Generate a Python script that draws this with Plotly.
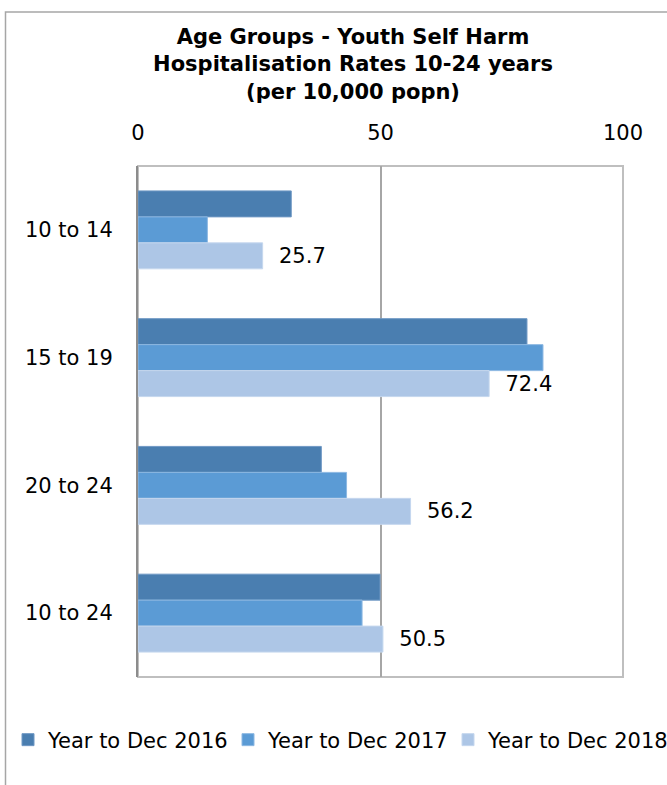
import plotly.graph_objects as go

categories = ["10 to 14", "15 to 19", "20 to 24", "10 to 24"]
series_names = ["Year to Dec 2016", "Year to Dec 2017", "Year to Dec 2018"]
values_2016 = [31.6, 80.2, 37.8, 49.9]
values_2017 = [14.3, 83.5, 43.0, 46.2]
values_2018 = [25.7, 72.4, 56.2, 50.5]
x_ticks = [0, 50, 100]

colors = ["#4A7EB0", "#5B9BD5", "#ADC6E6"]
edge_colors = ["#6F98C4", "#8DB8E2", "#C5D7EE"]
legend_ids = ["legend", "legend2", "legend3"]
legend_x_px = [8, 228, 448]

W, H = 667, 785
L, R, T, B = 138, 44, 166, 108
pw, ph = W - L - R, H - T - B
LEGEND_Y_PX = 740

fig = go.Figure()
all_vals = [values_2016, values_2017, values_2018]
for i, (name, vals) in enumerate(zip(series_names, all_vals)):
    show_text = i == 2
    fig.add_trace(go.Bar(
        y=categories, x=vals, orientation="h", name=name,
        marker=dict(color=colors[i], line=dict(color=edge_colors[i], width=1)),
        text=[f"\u00a0\u00a0{v}" for v in vals] if show_text else None,
        textposition="outside" if show_text else None,
        textfont=dict(family="DejaVu Sans", size=21, color="#000000"),
        cliponaxis=False,
        legend=legend_ids[i],
    ))

# outer chart border (partially off-canvas like the reference)
fig.add_shape(type="rect", xref="paper", yref="paper",
              x0=(5.5 - L) / pw, x1=(W + 20 - L) / pw,
              y0=-(B + 20) / ph, y1=1 + (T - 12) / ph,
              line=dict(color="#A6A6A6", width=1.5), layer="below")
# plot-area border
fig.add_shape(type="rect", xref="paper", yref="paper", x0=0, x1=1, y0=0, y1=1,
              line=dict(color="#BFBFBF", width=2), layer="below")

legend_font = dict(family="DejaVu Sans", size=21, color="#000000")
legend_layouts = {}
for lid, xpx in zip(legend_ids, legend_x_px):
    legend_layouts[lid] = dict(
        orientation="h", xref="container", yref="container",
        x=xpx / W, xanchor="left", y=1 - LEGEND_Y_PX / H, yanchor="middle",
        itemwidth=30, font=legend_font, bgcolor="rgba(0,0,0,0)",
    )

fig.update_layout(
    width=W, height=H,
    margin=dict(l=L, r=R, t=T, b=B, pad=0),
    paper_bgcolor="white", plot_bgcolor="white",
    barmode="group", bargap=0.39, bargroupgap=0,
    title=dict(
        text="<b>Age Groups - Youth Self Harm<br>Hospitalisation Rates 10-24 years<br>(per 10,000 popn)</b>",
        x=353 / W, xref="container", xanchor="center",
        y=1 - 44 / H, yref="container", yanchor="top",
        font=dict(family="DejaVu Sans", size=21, color="#000000"),
    ),
    font=dict(family="DejaVu Sans", size=21, color="#000000"),
    showlegend=True,
    xaxis=dict(
        side="top", range=[0, 100], tickvals=x_ticks, ticktext=[str(v) for v in x_ticks],
        showgrid=True, gridcolor="#A6A6A6", gridwidth=1.5, zeroline=False,
        showline=False, ticks="", ticklabelstandoff=21,
        tickfont=dict(family="DejaVu Sans", size=21, color="#000000"),
        fixedrange=True,
    ),
    yaxis=dict(
        autorange="reversed", showgrid=False, zeroline=False,
        showline=True, linecolor="#8C8C8C", linewidth=2, mirror=False,
        ticks="", ticklabelstandoff=19,
        tickfont=dict(family="DejaVu Sans", size=21, color="#000000"),
        fixedrange=True,
    ),
    **legend_layouts,
)

fig.write_html("out.html")
